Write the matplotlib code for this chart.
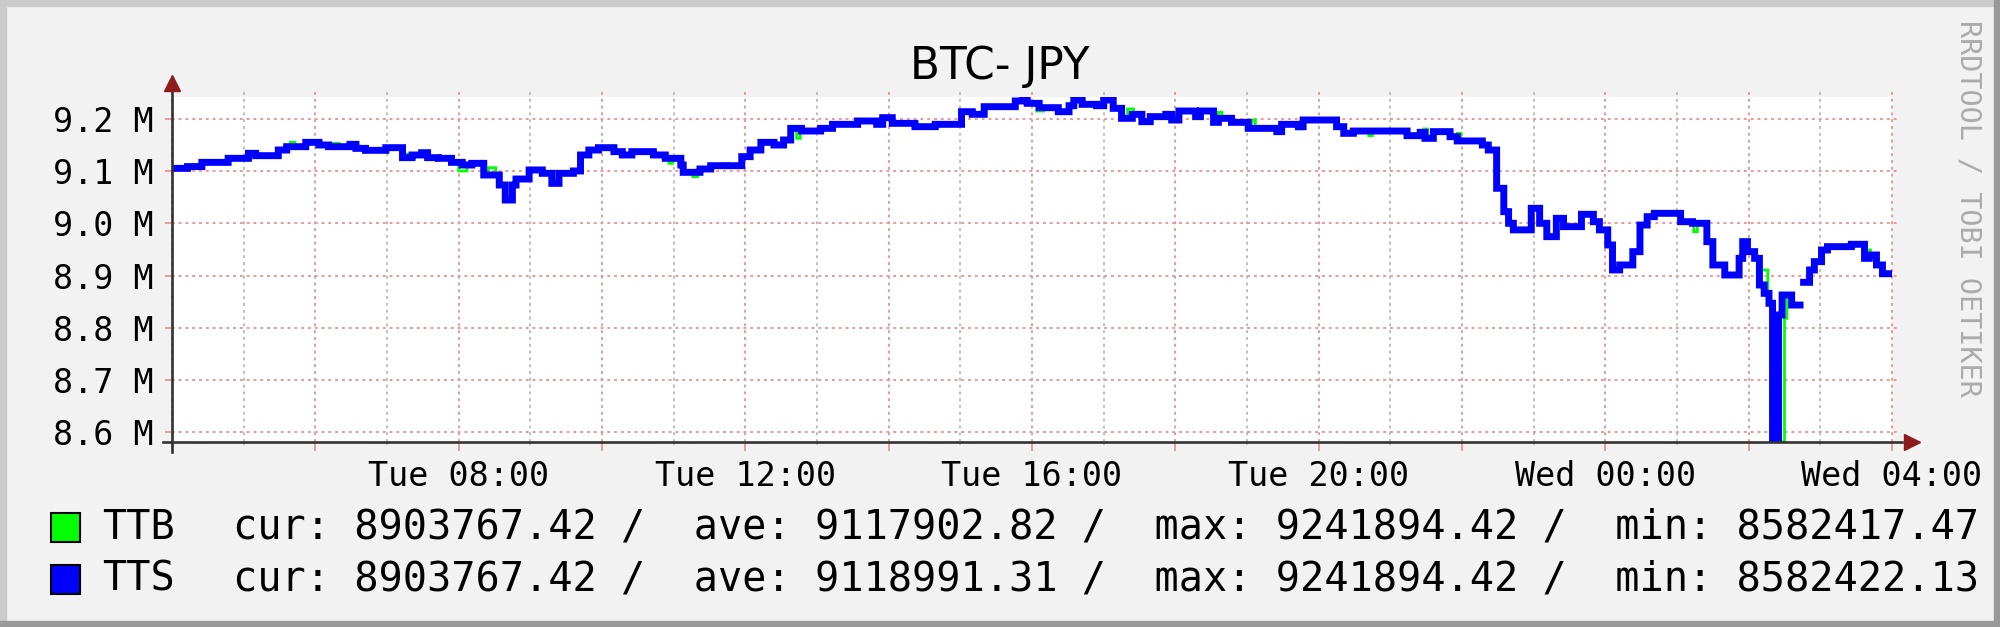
import numpy as np
import matplotlib
matplotlib.use("Agg")
import matplotlib.pyplot as plt
from matplotlib.patches import Rectangle

title = "BTC- JPY"
watermark = "RRDTOOL / TOBI OETIKER"

# minutes after Tue 04:00 where the TTS value steps, and the new value (JPY)
tts_minutes = [0, 13, 25, 47, 64, 70, 89, 96, 112, 123, 131, 149, 154, 162, 179,
               193, 201, 209, 214, 223, 234, 243, 251, 261, 274, 279, 285, 288, 299,
               310, 318, 324, 336, 342, 349, 357, 370, 377, 385, 403, 413, 426, 428,
               442, 451, 477, 484, 493, 504, 512, 518, 527, 543, 553, 574, 590, 595,
               603, 622, 639, 661, 670, 680, 706, 712, 716, 726, 742, 751, 755, 762,
               774, 780, 788, 795, 804, 812, 819, 832, 837, 843, 857, 861, 872, 876,
               887, 901, 925, 929, 943, 947, 975, 981, 989, 1034, 1045, 1049, 1056,
               1070, 1076, 1097, 1102, 1109, 1115, 1119, 1123, 1138, 1145, 1151, 1159,
               1165, 1180, 1190, 1195, 1202, 1206, 1212, 1223, 1229, 1235, 1241, 1263,
               1273, 1285, 1290, 1300, 1312, 1315, 1319, 1325, 1329, 1333, 1337, 1340,
               1345, 1348, 1356, 1363, 1366, 1371, 1375, 1381, 1386, 1406, 1417, 1421,
               1427, 1432]
tts_price = [9105500, 9108900, 9117000, 9124700, 9134300, 9129800, 9140600, 9147000,
             9155300, 9150200, 9147000, 9151500, 9143800, 9140000, 9145100, 9126000,
             9131100, 9135500, 9126000, 9124700, 9117000, 9111900, 9115100, 9092800,
             9073600, 9044900, 9073600, 9085100, 9102400, 9096000, 9076800, 9096000,
             9100500, 9131100, 9140600, 9145100, 9137500, 9131100, 9137500, 9131100,
             9124700, 9111900, 9097900, 9104300, 9110600, 9127900, 9140600, 9155300,
             9150200, 9159800, 9182100, 9177000, 9182100, 9189800, 9196200, 9189800,
             9202600, 9191700, 9185300, 9189800, 9214000, 9209000, 9223600, 9234500,
             9241894.42, 9230000, 9221700, 9214000, 9225500, 9236400, 9228100, 9225500,
             9236400, 9220400, 9201300, 9208900, 9194900, 9204500, 9208900, 9198100,
             9215300, 9204500, 9215300, 9193600, 9201300, 9193600, 9182100, 9175800,
             9189800, 9185300, 9198100, 9185300, 9172600, 9177000, 9168100, 9174500,
             9163000, 9175800, 9166200, 9158000, 9150200, 9140600, 9067300, 9022600,
             9000300, 8987700, 9029000, 9000300, 8974700, 9009800, 8993900, 9017500,
             9003400, 8987700, 8958800, 8911000, 8920500, 8946000, 8997000, 9013000,
             9019400, 9003400, 9000300, 8965200, 8920500, 8901300, 8933200, 8965200,
             8946000, 8933200, 8882200, 8866200, 8847100, 8582422.13, 8824700, 8863000,
             8843800, np.nan, 8887300, 8910900, 8926900, 8949200, 8955600, 8960100,
             8933200, 8939600, 8920500, 8903767.42]

# stretches where TTB sits apart from TTS (start minute, end minute, price)
ttb_diff_start = [99, 133, 197, 240, 265, 416, 436, 460, 523, 724, 800, 876, 904,
                  942, 1002, 1048, 1076, 1153, 1274, 1329, 1340, 1350, 1419]
ttb_diff_end = [103, 140, 201, 247, 271, 419, 440, 466, 526, 730, 805, 879, 907,
                946, 1005, 1051, 1079, 1160, 1277, 1336, 1350, 1352, 1422]
ttb_diff_price = [9155300, 9153400, 9133000, 9100500, 9106800, 9115100, 9089600,
                  9114500, 9163000, 9215300, 9219100, 9212800, 9198100, 9180900,
                  9168100, 9180900, 9172600, 8971500, 8984300, 8910900, 8582417.47,
                  8818500, 8949200]

series_names = ["TTB", "TTS"]
series_colors = ["#00FF00", "#0000FF"]
stat_cur = [8903767.42, 8903767.42]
stat_ave = [9117902.82, 9118991.31]
stat_max = [9241894.42, 9241894.42]
stat_min = [8582417.47, 8582422.13]

tick_minutes = [240, 480, 720, 960, 1200, 1440]
tick_labels = ["Tue 08:00", "Tue 12:00", "Tue 16:00", "Tue 20:00", "Wed 00:00", "Wed 04:00"]
y_grid = [8.6e6, 8.7e6, 8.8e6, 8.9e6, 9.0e6, 9.1e6, 9.2e6]

MONO = "DejaVu Sans Mono"
MAJOR_COL = "#EA9A9A"
MINOR_COL = "#BEBEBE"
ARROW_COL = "#8E1B1B"

# step series on a one minute grid
minutes = np.arange(0, 1441)
idx = np.searchsorted(tts_minutes, minutes, side="right") - 1
tts = np.array(tts_price, dtype=float)[idx]
ttb = tts.copy()
for s, e, p in zip(ttb_diff_start, ttb_diff_end, ttb_diff_price):
    ttb[(minutes >= s) & (minutes < e)] = p

fig = plt.figure(figsize=(20, 6.27), dpi=100, facecolor="#F2F2F2")
ax = fig.add_axes([0.086, 0.2958, 0.86, 0.5493])
ax.set_facecolor("white")
ax.set_xlim(0, 1440)
ax.set_ylim(min(stat_min), max(stat_max))
for sp in ax.spines.values():
    sp.set_visible(False)

# grid: every hour, red on even hours, grey on odd ones
dots = (0, (1.5, 2.0))
for m in range(0, 1441, 60):
    col = MAJOR_COL if (m // 60) % 2 == 0 else MINOR_COL
    ax.vlines(m, 0, 1.025, transform=ax.get_xaxis_transform(), colors=col,
              linestyles=dots, lw=1.4, clip_on=False, zorder=1)
ax.hlines(y_grid, -0.004, 1.004, transform=ax.get_yaxis_transform(), colors=MAJOR_COL,
          linestyles=dots, lw=1.4, clip_on=False, zorder=1)

ax.plot(minutes, ttb, drawstyle="steps-post", color=series_colors[0], lw=2.0,
        solid_joinstyle="miter", zorder=3)
ax.plot(minutes, tts, drawstyle="steps-post", color=series_colors[1], lw=5.0,
        solid_joinstyle="miter", zorder=4)

# ticks
major = list(range(0, 1441, 120))
labels = [tick_labels[tick_minutes.index(m)] if m in tick_minutes else "" for m in major]
ax.set_xticks(major, labels, fontsize=24, family=MONO)
ax.set_xticks(list(range(60, 1441, 120)), minor=True)
ax.tick_params(axis="x", which="major", length=6.5, width=1.4, color=MAJOR_COL, pad=7)
ax.tick_params(axis="x", which="minor", length=2.5, width=1.4, color=MINOR_COL)
ax.set_yticks(y_grid, [f"{v / 1e6:.1f} M" for v in y_grid], fontsize=24, family=MONO)
ax.tick_params(axis="y", length=4, width=1.4, color=MAJOR_COL, pad=9.5)

# axis lines with arrows
ax.plot([-0.005, 1.006], [0, 0], transform=ax.transAxes, color="#333333", lw=1.9,
        clip_on=False, zorder=5)
ax.plot([0, 0], [-0.03, 1.03], transform=ax.transAxes, color="#333333", lw=1.9,
        clip_on=False, zorder=5)
ax.plot([1.0116], [0], transform=ax.transAxes, marker=">", ms=12, color=ARROW_COL,
        clip_on=False, zorder=6)
ax.plot([0], [1.041], transform=ax.transAxes, marker="^", ms=12, color=ARROW_COL,
        clip_on=False, zorder=6)

fig.text(0.5, 0.8947, title, ha="center", va="center", family="DejaVu Sans", size=31.5)
fig.text(0.984, 0.668, watermark, rotation=270, ha="center", va="center",
         color="#ABABAB", family=MONO, size=20.5)

# legend rows
row_y = [0.1579, 0.0750]
for i, name in enumerate(series_names):
    fig.add_artist(Rectangle((0.0255, row_y[i] - 0.0231), 0.0145, 0.0463,
                             facecolor=series_colors[i], edgecolor="black", lw=1.5,
                             transform=fig.transFigure))
    fig.text(0.051, row_y[i], name, va="center", family=MONO, size=29)
    stats = (f"cur: {stat_cur[i]:.2f} /  ave: {stat_ave[i]:.2f} /  "
             f"max: {stat_max[i]:.2f} /  min: {stat_min[i]:.2f}")
    fig.text(0.1165, row_y[i], stats, va="center", family=MONO, size=29)

# frame shading
fig.add_artist(Rectangle((0, 1 - 6 / 627), 1, 6 / 627, color="#CBCBCB", transform=fig.transFigure))
fig.add_artist(Rectangle((0, 0), 0.003, 1, color="#CBCBCB", transform=fig.transFigure))
fig.add_artist(Rectangle((0, 0), 1, 6 / 627, color="#999999", transform=fig.transFigure))
fig.add_artist(Rectangle((0.997, 0), 0.003, 1, color="#999999", transform=fig.transFigure))

fig.savefig("out.png", dpi=100, facecolor=fig.get_facecolor())
